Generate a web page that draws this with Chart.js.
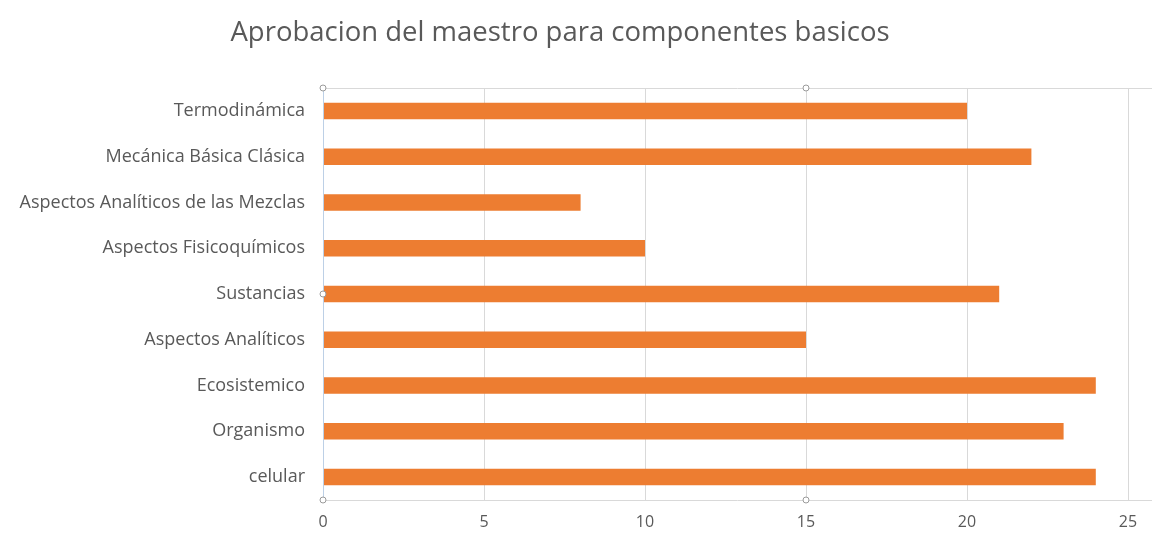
<!DOCTYPE html>
<html>
<head>
<meta charset="utf-8">
<script src="https://cdn.jsdelivr.net/npm/chart.js@4.4.1/dist/chart.umd.min.js"></script>
<style>
  html, body { margin: 0; padding: 0; background: #ffffff; }
  #wrap { width: 1156px; height: 538px; position: relative; }
</style>
</head>
<body>
<div id="wrap"><canvas id="chart" width="1156" height="538"></canvas></div>
<script>
// Components and approval counts, listed top to bottom
const categories = [
  'Termodinámica',
  'Mecánica Básica Clásica',
  'Aspectos Analíticos de las Mezclas',
  'Aspectos Fisicoquímicos',
  'Sustancias',
  'Aspectos Analíticos',
  'Ecosistemico',
  'Organismo',
  'celular'
];
const approvals = [20, 22, 8, 10, 21, 15, 24, 23, 24];
const xTicks = [0, 5, 10, 15, 20, 25];
const titleText = 'Aprobacion del maestro para componentes basicos';

const FONT = '"Open Sans", Lato, "Liberation Sans", sans-serif';
const TEXT = '#595959';

// Title, frame lines and the small selection handles around the plot
const decor = {
  id: 'decor',
  afterDraw(chart) {
    const { ctx, chartArea: a } = chart;
    const xs = chart.scales.x;
    ctx.save();
    ctx.fillStyle = TEXT;
    ctx.font = '27.5px ' + FONT;
    ctx.textAlign = 'center';
    ctx.textBaseline = 'middle';
    ctx.fillText(titleText, 560, 33);

    ctx.strokeStyle = '#d9d9d9';
    ctx.lineWidth = 1;
    ctx.beginPath();
    ctx.moveTo(a.left, a.top + 0.5);
    ctx.lineTo(chart.width - 4, a.top + 0.5);
    ctx.moveTo(a.left, a.bottom + 0.5);
    ctx.lineTo(chart.width - 4, a.bottom + 0.5);
    ctx.stroke();

    ctx.strokeStyle = '#bdd0e6';
    ctx.beginPath();
    ctx.moveTo(a.left + 0.5, a.top);
    ctx.lineTo(a.left + 0.5, a.bottom);
    ctx.stroke();

    const mid = xs.getPixelForValue(15);
    const handles = [
      [a.left, a.top], [mid, a.top],
      [a.left, (a.top + a.bottom) / 2],
      [a.left, a.bottom], [mid, a.bottom]
    ];
    ctx.fillStyle = '#ffffff';
    ctx.strokeStyle = '#9a9a9a';
    handles.forEach(([hx, hy]) => {
      ctx.beginPath();
      ctx.arc(hx, hy, 3, 0, Math.PI * 2);
      ctx.fill();
      ctx.stroke();
    });
    ctx.restore();
  }
};

new Chart(document.getElementById('chart'), {
  type: 'bar',
  data: {
    labels: categories,
    datasets: [{
      data: approvals,
      backgroundColor: '#ED7D31',
      borderWidth: 0,
      barPercentage: 0.36,
      categoryPercentage: 1.0
    }]
  },
  options: {
    indexAxis: 'y',
    responsive: false,
    animation: false,
    devicePixelRatio: 1,
    layout: { padding: { top: 88, right: 28, bottom: 0, left: 0 } },
    plugins: {
      legend: { display: false },
      title: { display: false },
      tooltip: { enabled: false }
    },
    scales: {
      x: {
        min: 0,
        max: 25,
        afterBuildTicks(scale) { scale.ticks = xTicks.map(v => ({ value: v })); },
        afterFit(scale) { scale.height = 38; },
        grid: { color: '#d9d9d9', drawTicks: false },
        border: { display: false },
        ticks: { color: TEXT, font: { family: FONT, size: 16 }, padding: 13 }
      },
      y: {
        afterFit(scale) { scale.width = 323; },
        grid: { display: false, drawTicks: false },
        border: { display: false },
        ticks: { color: TEXT, font: { family: FONT, size: 18 }, padding: 18 }
      }
    }
  },
  plugins: [decor]
});
</script>
</body>
</html>
